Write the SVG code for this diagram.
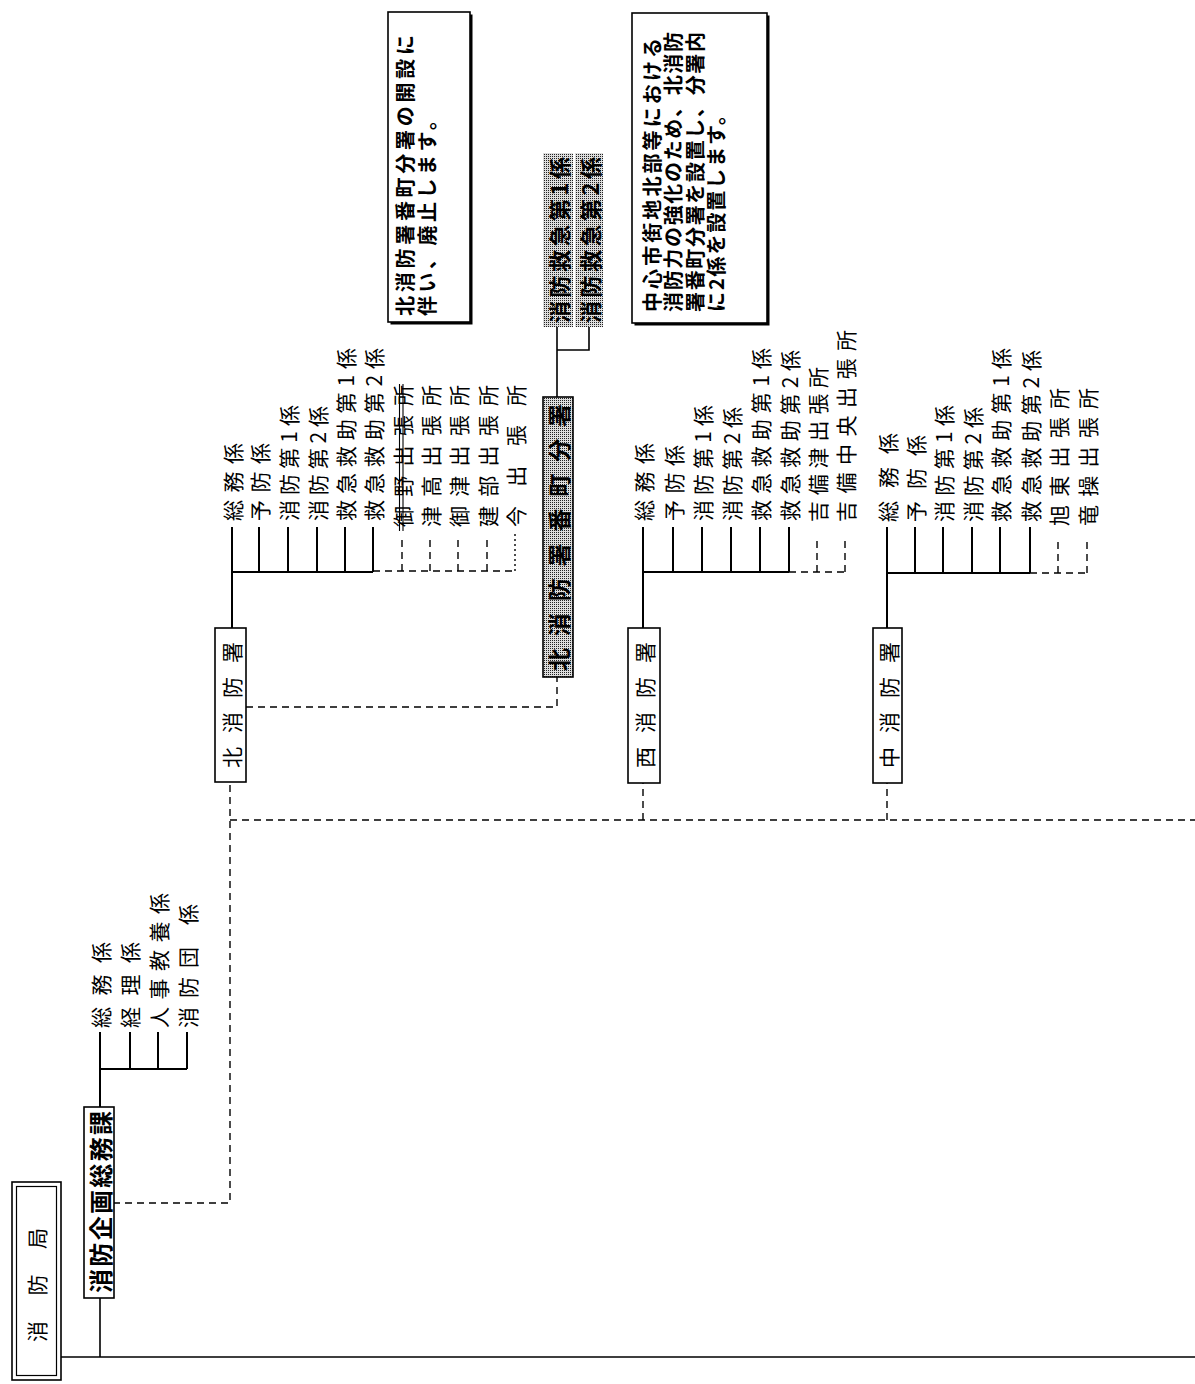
<svg xmlns="http://www.w3.org/2000/svg" width="1195" height="1384" viewBox="0 0 1195 1384">
<style>
.t{font-family:"Noto Sans CJK JP","Noto Sans CJK SC",sans-serif;font-size:21px;dominant-baseline:central;fill:#000}
.b{font-weight:bold}
.s{stroke:#000;stroke-width:1.6;fill:none}
.br{stroke:#000;stroke-width:2;fill:none}
.d{stroke:#000;stroke-width:1.4;fill:none;stroke-dasharray:7 5}
.dot{stroke:#000;stroke-width:1.4;fill:none;stroke-dasharray:2 3}
.box{fill:#fff;stroke:#000;stroke-width:1.6}
.gbox{fill:url(#stip);stroke:#000;stroke-width:1.6}
.gfill{fill:url(#stip)}
.shadow{fill:#000}
</style>
<defs>
<pattern id="stip" width="2" height="2" patternUnits="userSpaceOnUse">
<rect width="2" height="2" fill="#ddd"/>
<rect width="1" height="1" fill="#222"/>
</pattern>
</defs>
<rect width="1195" height="1384" fill="#fff"/>

<g id="connectors">
<path class="s" d="M61,1357H1195M100,1357V1298"/>
<path class="br" d="M100,1107V1032M100,1069H187M130,1069V1032M158,1069V1032M187,1069V1032"/>
<path class="d" d="M113,1203H230V782M230,820H1195M643,820V783M887,820V783"/>
<path class="d" d="M246,707H557V677"/>
<path class="s" d="M557,397V327M557,350H589V327"/>
<path class="br" d="M232,628V527M232,572H373M259,572V527M288,572V527M317,572V527M345,572V527M373,572V527"/>
<path class="d" d="M373,571H515M402,571V536M430,571V536M458,571V536M487,571V536"/>
<path class="dot" d="M515,571V534"/>
<path class="br" d="M643,628V527M643,572H789M673,572V527M702,572V527M731,572V527M760,572V527M789,572V527"/>
<path class="d" d="M789,572H845M817,572V537M845,572V537"/>
<path class="br" d="M887,628V527M887,573H1030M915,573V527M943,573V527M972,573V527M1000,573V527M1030,573V527"/>
<path class="d" d="M1030,573H1087M1058,573V537M1087,573V537"/>
</g>

<g id="shobokyoku">
<rect class="box" x="12" y="1182" width="49" height="198"/>
<rect class="box" x="16.5" y="1186.5" width="40" height="189" style="stroke-width:1.2"/>
<text class="t" transform="translate(36,1342) rotate(-90)" textLength="114" lengthAdjust="spacing">消防局</text>
</g>

<g id="kikaku">
<rect class="box" x="84" y="1107" width="30" height="191"/>
<text class="t b" style="font-size:24px" transform="translate(99,1293) rotate(-90)" textLength="182" lengthAdjust="spacing">消防企画総務課</text>
</g>
<g id="k-somu"><text class="t" transform="translate(100,1028) rotate(-90)" textLength="86" lengthAdjust="spacing">総務係</text></g>
<g id="k-keiri"><text class="t" transform="translate(129,1028) rotate(-90)" textLength="86" lengthAdjust="spacing">経理係</text></g>
<g id="k-jinji"><text class="t" transform="translate(158,1028) rotate(-90)" textLength="135" lengthAdjust="spacing">人事教養係</text></g>
<g id="k-shobodan"><text class="t" transform="translate(187,1028) rotate(-90)" textLength="81" lengthAdjust="spacing">消防団</text><text class="t" transform="translate(187,925) rotate(-90)">係</text></g>

<g id="kita">
<rect class="box" x="215" y="628" width="31" height="154"/>
<text class="t" transform="translate(230.5,768) rotate(-90)" textLength="126" lengthAdjust="spacing">北消防署</text>
</g>
<g id="kita-somu"><text class="t" transform="translate(232,521) rotate(-90)" textLength="78" lengthAdjust="spacing">総務係</text></g>
<g id="kita-yobo"><text class="t" transform="translate(259,521) rotate(-90)" textLength="78" lengthAdjust="spacing">予防係</text></g>
<g id="kita-sb1"><text class="t" transform="translate(288,521) rotate(-90)" textLength="116" lengthAdjust="spacing">消防第1係</text></g>
<g id="kita-sb2"><text class="t" transform="translate(317,521) rotate(-90)" textLength="115" lengthAdjust="spacing">消防第2係</text></g>
<g id="kita-kk1"><text class="t" transform="translate(345,521) rotate(-90)" textLength="173" lengthAdjust="spacing">救急救助第1係</text></g>
<g id="kita-kk2"><text class="t" transform="translate(373,521) rotate(-90)" textLength="173" lengthAdjust="spacing">救急救助第2係</text></g>
<g id="kita-mino"><text class="t" transform="translate(402,527) rotate(-90)" textLength="142" lengthAdjust="spacing">御野出張所</text>
<path class="s" style="stroke-width:1.1" d="M399.5,384V531M403,384V531"/></g>
<g id="kita-tsudaka"><text class="t" transform="translate(430,527) rotate(-90)" textLength="142" lengthAdjust="spacing">津高出張所</text></g>
<g id="kita-mitsu"><text class="t" transform="translate(458,527) rotate(-90)" textLength="142" lengthAdjust="spacing">御津出張所</text></g>
<g id="kita-takebe"><text class="t" transform="translate(487,527) rotate(-90)" textLength="142" lengthAdjust="spacing">建部出張所</text></g>
<g id="kita-ima"><text class="t" transform="translate(515,527) rotate(-90)" textLength="142" lengthAdjust="spacing">今出張所</text></g>

<g id="note1">
<rect class="shadow" x="390.5" y="14.5" width="82" height="310"/>
<rect class="box" x="388" y="12" width="82" height="310"/>
<text class="t b" style="font-size:20px" transform="translate(404,316) rotate(-90)" textLength="281" lengthAdjust="spacing">北消防署番町分署の開設に</text>
<text class="t b" style="font-size:20px" transform="translate(426,316) rotate(-90)" textLength="206" lengthAdjust="spacing">伴い、廃止します。</text>
</g>

<g id="bancho">
<rect class="gbox" x="543" y="397" width="30" height="280"/>
<text class="t b" style="font-size:23px" transform="translate(558,671) rotate(-90)" textLength="267" lengthAdjust="spacing">北消防署番町分署</text>
</g>
<g id="bancho-1">
<rect class="gfill" x="543" y="153" width="30" height="174"/>
<text class="t b" style="font-size:22px" transform="translate(558,323) rotate(-90)" textLength="166" lengthAdjust="spacing">消防救急第1係</text>
</g>
<g id="bancho-2">
<rect class="gfill" x="575" y="153" width="28" height="174"/>
<text class="t b" style="font-size:22px" transform="translate(589,323) rotate(-90)" textLength="166" lengthAdjust="spacing">消防救急第2係</text>
</g>

<g id="note2">
<rect class="shadow" x="634.5" y="15.5" width="135" height="310"/>
<rect class="box" x="632" y="13" width="135" height="310"/>
<text class="t b" style="font-size:20px" transform="translate(651,312) rotate(-90)" textLength="274" lengthAdjust="spacing">中心市街地北部等における</text>
<text class="t b" style="font-size:20px" transform="translate(672,312) rotate(-90)" textLength="280" lengthAdjust="spacing">消防力の強化のため、北消防</text>
<text class="t b" style="font-size:20px" transform="translate(694,312) rotate(-90)" textLength="280" lengthAdjust="spacing">署番町分署を設置し、分署内</text>
<text class="t b" style="font-size:20px" transform="translate(715,312) rotate(-90)" textLength="207" lengthAdjust="spacing">に2係を設置します。</text>
</g>

<g id="nishi">
<rect class="box" x="628" y="628" width="32" height="155"/>
<text class="t" transform="translate(644,768) rotate(-90)" textLength="126" lengthAdjust="spacing">西消防署</text>
</g>
<g id="nishi-somu"><text class="t" transform="translate(643,521) rotate(-90)" textLength="78" lengthAdjust="spacing">総務係</text></g>
<g id="nishi-yobo"><text class="t" transform="translate(673,521) rotate(-90)" textLength="76" lengthAdjust="spacing">予防係</text></g>
<g id="nishi-sb1"><text class="t" transform="translate(702,521) rotate(-90)" textLength="116" lengthAdjust="spacing">消防第1係</text></g>
<g id="nishi-sb2"><text class="t" transform="translate(731,521) rotate(-90)" textLength="114" lengthAdjust="spacing">消防第2係</text></g>
<g id="nishi-kk1"><text class="t" transform="translate(760,521) rotate(-90)" textLength="173" lengthAdjust="spacing">救急救助第1係</text></g>
<g id="nishi-kk2"><text class="t" transform="translate(789,521) rotate(-90)" textLength="171" lengthAdjust="spacing">救急救助第2係</text></g>
<g id="nishi-kibitsu"><text class="t" transform="translate(817,522) rotate(-90)" textLength="155" lengthAdjust="spacing">吉備津出張所</text></g>
<g id="nishi-kibichuo"><text class="t" transform="translate(845,522) rotate(-90)" textLength="192" lengthAdjust="spacing">吉備中央出張所</text></g>

<g id="naka">
<rect class="box" x="873" y="628" width="29" height="155"/>
<text class="t" transform="translate(887.5,768) rotate(-90)" textLength="126" lengthAdjust="spacing">中消防署</text>
</g>
<g id="naka-somu"><text class="t" transform="translate(887,522) rotate(-90)" textLength="89" lengthAdjust="spacing">総務係</text></g>
<g id="naka-yobo"><text class="t" transform="translate(915,522) rotate(-90)" textLength="87" lengthAdjust="spacing">予防係</text></g>
<g id="naka-sb1"><text class="t" transform="translate(943,522) rotate(-90)" textLength="117" lengthAdjust="spacing">消防第1係</text></g>
<g id="naka-sb2"><text class="t" transform="translate(972,522) rotate(-90)" textLength="115" lengthAdjust="spacing">消防第2係</text></g>
<g id="naka-kk1"><text class="t" transform="translate(1000,522) rotate(-90)" textLength="174" lengthAdjust="spacing">救急救助第1係</text></g>
<g id="naka-kk2"><text class="t" transform="translate(1030,522) rotate(-90)" textLength="172" lengthAdjust="spacing">救急救助第2係</text></g>
<g id="naka-kyokuto"><text class="t" transform="translate(1058,526) rotate(-90)" textLength="138" lengthAdjust="spacing">旭東出張所</text></g>
<g id="naka-ryuso"><text class="t" transform="translate(1087,526) rotate(-90)" textLength="138" lengthAdjust="spacing">竜操出張所</text></g>
</svg>
